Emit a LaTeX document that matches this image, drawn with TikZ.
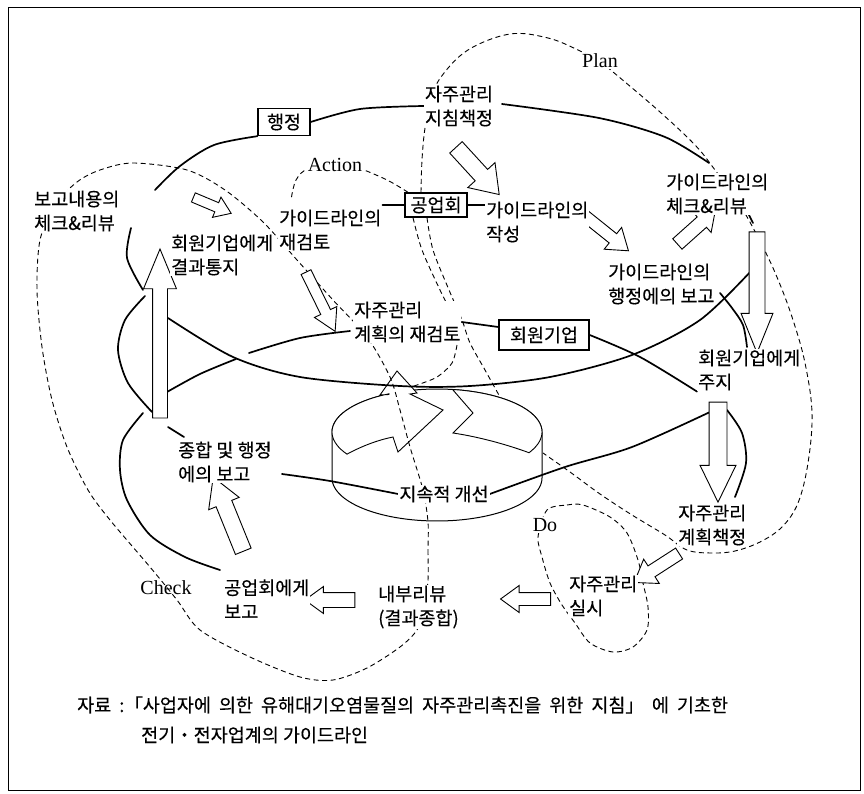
\documentclass[tikz,border=0pt]{standalone}
\usepackage{fontspec}
\setmainfont{Liberation Serif}
\newfontfamily\kr[FakeBold=0.3]{Noto Sans CJK KR}
\usetikzlibrary{shapes.arrows,backgrounds}

\begin{document}
\begin{tikzpicture}[
    x=1pt, y=-1pt,
    klabel/.style={font=\kr\fontsize{18.5}{24}\selectfont, align=left, inner sep=1pt, fill=white},
    kbox/.style={draw, line width=1.4pt, fill=white, font=\kr\fontsize{18.5}{24}\selectfont, inner sep=0pt, minimum height=27pt},
    pdca/.style={font=\fontsize{20}{24}\selectfont, inner sep=1pt, fill=white},
    spiral/.style={line width=1.7pt, line cap=round},
    loopdash/.style={line width=0.9pt, dash pattern=on 5pt off 3.5pt},
    blockarrow/.style={single arrow, draw, fill=white, line width=0.9pt, inner xsep=0pt, minimum width=0pt, minimum height=#1},
]
\useasboundingbox (0,0) rectangle (864,794);

\node[blockarrow=41pt, inner ysep=4.5pt, single arrow head extend=6pt, single arrow tip angle=70, rotate=-22.8] (arnotify) at (209,204) {};
\node[blockarrow=64pt, inner ysep=8pt, single arrow head extend=10pt, single arrow tip angle=70, rotate=-47.5] (ardraft) at (473.5,166.5) {};
\node[blockarrow=58pt, inner ysep=5.5pt, single arrow head extend=8pt, single arrow tip angle=70, rotate=-38.7] (arreport) at (602.5,230) {};
\node[blockarrow=51pt, inner ysep=6.5pt, single arrow head extend=7pt, single arrow tip angle=75, rotate=41.8] (archeck) at (693,230) {};
\node[blockarrow=121pt, inner ysep=7.5pt, single arrow head extend=8pt, single arrow tip angle=44, rotate=-90] (ardownA) at (757,282.5) {};
\node[blockarrow=100pt, inner ysep=8.5pt, single arrow head extend=9pt, single arrow tip angle=52, rotate=-90] (ardownB) at (718,443) {};
\node[blockarrow=53.5pt, inner ysep=6pt, single arrow head extend=8pt, single arrow tip angle=70, rotate=-147.2] (ardo) at (660.5,565.5) {};
\node[blockarrow=50pt, inner ysep=6pt, single arrow head extend=7pt, single arrow tip angle=72, rotate=180] (arleftA) at (530,599) {};
\node[blockarrow=50pt, inner ysep=7pt, single arrow head extend=6pt, single arrow tip angle=72, rotate=180] (arleftB) at (335,600) {};
\node[blockarrow=80pt, inner ysep=8pt, single arrow head extend=8pt, single arrow tip angle=60, rotate=112.1] (arupB) at (231,521) {};
\node[blockarrow=169pt, inner ysep=7pt, single arrow head extend=9pt, single arrow tip angle=45, rotate=90] (arupA) at (160,342.5) {};
\node[blockarrow=66pt, inner ysep=5pt, single arrow head extend=7pt, single arrow tip angle=60, rotate=-63.8] (arplan) at (318.5,297.5) {};

\node[klabel, anchor=west] (rptchk) at (33,211) {보고내용의\\체크\&리뷰};
\node[klabel, anchor=west] (notify) at (170,255) {회원기업에게\\결과통지};
\node[klabel, anchor=west] (rereview) at (278,230) {가이드라인의\\재검토};
\node[klabel, align=center] (policy) at (459,106) {자주관리\\지침책정};
\node[klabel, anchor=west] (draft) at (485,222) {가이드라인의\\작성};
\node[klabel, anchor=west] (gcheck) at (665,194) {가이드라인의\\체크\&리뷰};
\node[klabel, anchor=west] (greport) at (607,284) {가이드라인의\\행정에의 보고};
\node[klabel, anchor=west] (planrev) at (353,322) {자주관리\\계획의 재검토};
\node[klabel, anchor=west] (inform) at (697,370) {회원기업에게\\주지};
\node[klabel, anchor=west] (planset) at (677,525) {자주관리\\계획책정};
\node[klabel, anchor=west] (impl) at (568,596) {자주관리\\실시};
\node[klabel, anchor=west] (internal) at (377,607) {내부리뷰\\(결과종합)};
\node[klabel, anchor=west] (toassoc) at (223,599) {공업회에게\\보고};
\node[klabel, anchor=west] (summary) at (177,462) {종합 및 행정\\에의 보고};
\node[klabel] (improve) at (444,494) {지속적 개선};

\node[kbox, minimum width=52pt] (gov) at (284,122) {행정};
\node[kbox, minimum width=62pt, minimum height=24pt] (assoc) at (436,205) {공업회};
\node[kbox, minimum width=90pt, minimum height=30pt] (member) at (544,335) {회원기업};

\node[pdca] (tplan) at (600,61) {Plan};
\node[pdca] (taction) at (335,165) {Action};
\node[pdca, fill=none] (tcheck) at (166,588) {Check};
\node[pdca] (tdo) at (545,525) {Do};

\node[klabel, anchor=west, fill=none] (srcA) at (76,705) {\spaceskip=8pt 자료 :「사업자에 의한 유해대기오염물질의 자주관리촉진을 위한 지침」 에 기초한};
\node[klabel, anchor=west, fill=none] (srcB) at (140,735) {전기・전자업계의 가이드라인};

\begin{scope}[on background layer]
\draw[line width=1pt] (8,8) rectangle (860,790);

\draw[loopdash] plot[smooth, tension=0.6] coordinates {([xshift=-15pt]assoc.north) (422,160) (425,128) (431,100) (441,77) (468,50) (510,34) (548,38) (578,50) (600,62) (619,77) (660,112) (695,145) (715,170) (740,205) (763,247) (779,282) (793,320) (805,363) (812,413) (808,463) (798,503) (782,527) (760,542) (735,551) (712,553) (687,550) (665,535) (632,515) (600,494) (570,472) (543,453)};
\draw[loopdash] plot[smooth] coordinates {([xshift=-9pt]assoc.south) (433,250) (449,290) (462,320) (470,343) (485,370) (500,397)};
\draw[loopdash] plot[smooth] coordinates {([xshift=-23pt]assoc.south) (422,250) (440,290) (453,316)};
\draw[loopdash] plot[smooth] coordinates {(457,345) (452,363) (437,377) (417,385) (405,389)};
\draw[loopdash] plot[smooth] coordinates {([xshift=-28pt]assoc.north) (385,179) (350,166) (310,168) (296,180) (291,200)};
\draw[loopdash] plot[smooth cycle] coordinates {(547,510) (567,505) (583,505) (610,517) (627,533) (638,560) (643,583) (648,607) (647,630) (633,647) (613,652) (590,643) (575,623) (562,605) (550,583) (542,557) (538,537)};

\filldraw[fill=white, line width=1pt] plot[domain=180:360, samples=60, variable=\t] ({437+105*cos(\t)}, {432+43*sin(\t)}) -- plot[domain=0:180, samples=60, variable=\t] ({437+105*cos(\t)}, {478+43*sin(\t)}) -- cycle;
\filldraw[fill=white, line width=0.9pt] plot[domain=180:149, samples=10, variable=\t] ({437+105*cos(\t)}, {432+43*sin(\t)}) .. controls (362,446) and (378,440) .. (393,437) -- (398,452) -- (443,410) -- (410,394) -- (417,393) -- (397,371) -- (380,395) -- (389,394.5) -- plot[domain=242.8:180, samples=20, variable=\t] ({437+105*cos(\t)}, {432+43*sin(\t)}) -- cycle;
\filldraw[fill=white, line width=0.9pt] (453,390) -- (473,413) -- (453,433) .. controls (480,437) and (508,445) .. (529,452.7) -- plot[domain=28.8:0, samples=10, variable=\t] ({437+105*cos(\t)}, {432+43*sin(\t)}) -- plot[domain=360:278.8, samples=30, variable=\t] ({437+105*cos(\t)}, {432+43*sin(\t)}) -- cycle;

\draw[loopdash] plot[smooth cycle] coordinates {(428,522) (428,550) (428,580) (424,610) (417,630) (400,647) (367,668) (333,680) (300,677) (250,657) (200,630) (177,600) (150,567) (110,520) (88,490) (67,447) (52,400) (42,347) (37,290) (40,240) (55,205) (77,182) (100,170) (133,163) (187,170) (225,190) (263,222) (297,260) (333,300) (367,337) (390,377) (400,410) (410,447) (423,490)};

\draw[spiral] plot[smooth] coordinates {(155,190) (180,166) (214,145) (gov.south west)};
\draw[spiral] plot[smooth] coordinates {(gov.east) (360,109) (policy.west)};
\draw[spiral] plot[smooth] coordinates {(502,104) (599,118) (665,137) (709,163)};
\draw[spiral] (747,211) -- (753,223);
\draw[spiral] plot[smooth] coordinates {(131,228) (127,258) (143,290)};
\draw[spiral] plot[smooth] coordinates {(168,318) (233,357) (300,377) (400,386) (470,386) (550,377) (632,355) (700,320) (752,270)};
\draw[spiral] plot[smooth] coordinates {(167,392) (200,374) (236,359)};
\draw[spiral] plot[smooth] coordinates {(249,353) (300,338) (350,331)};
\draw[spiral] (planrev.east) -- ([yshift=8pt]member.west);
\draw[spiral] plot[smooth] coordinates {(member.east) (640,357) (inform.south west)};
\draw[spiral] plot[smooth] coordinates {(720,293) (732,308) (743,325) (747,347)};
\draw[spiral] plot[smooth] coordinates {(727,410) (742,433) (746,463) (735,497)};
\draw[spiral] plot[smooth] coordinates {(710,412) (632,447) (565,467) (improve.east)};
\draw[spiral] plot[smooth] coordinates {(improve.west) (330,481) (282,474)};
\draw[spiral] plot[smooth] coordinates {(145,296) (125,320) (118,350) (128,383) (152,412)};
\draw[spiral] plot[smooth] coordinates {(143,413) (123,440) (120,470) (127,500) (150,535) (185,557) (220,570)};
\draw[spiral] (168,427) -- (184,437);
\draw[spiral] (assoc.west) -- (assoc.west -| rereview.east);
\draw[spiral] (assoc.east) -- (assoc.east -| draft.west);
\end{scope}
\end{tikzpicture}
\end{document}
